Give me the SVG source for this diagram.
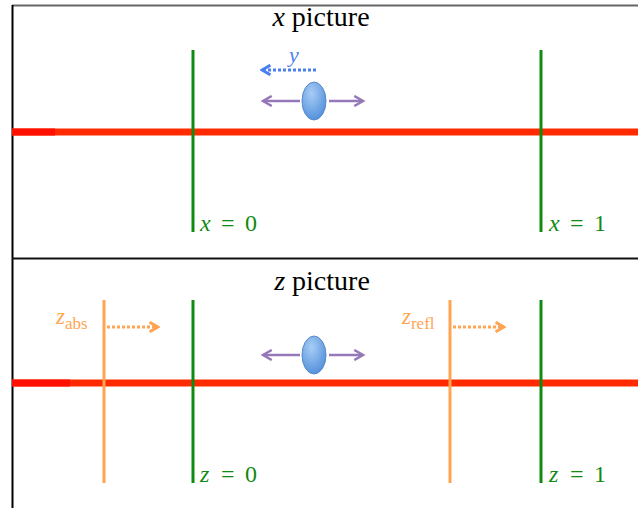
<svg xmlns="http://www.w3.org/2000/svg" width="638" height="508" viewBox="0 0 638 508">
<defs>
<style>
.rail{stroke:#ff2a00;stroke-width:7}
.rail0{stroke:#ff1000;stroke-width:7}
.green{stroke:#108a10;stroke-width:3}
.orange{stroke:#ffa552;stroke-width:3}
.purple{stroke:#9478b8;stroke-width:2.5;fill:none}
.dotb{stroke:#4a7ff0;stroke-width:3;stroke-dasharray:3 2;fill:none}
.doto{stroke:#ffa552;stroke-width:3;stroke-dasharray:3 2;fill:none}
.it{font-style:italic}
</style>
<marker id="mp" viewBox="0 0 10 10" refX="8" refY="5" markerWidth="5" markerHeight="5" orient="auto" markerUnits="strokeWidth"><path d="M1,1 L8,5 L1,9" fill="none" stroke="#9478b8" stroke-width="2"/></marker>
<marker id="mb" viewBox="0 0 10 10" refX="8" refY="5" markerWidth="4" markerHeight="4" orient="auto" markerUnits="strokeWidth"><path d="M1,1 L8,5 L1,9" fill="none" stroke="#4a7ff0" stroke-width="2.5"/></marker>
<marker id="mo" viewBox="0 0 10 10" refX="8" refY="5" markerWidth="4" markerHeight="4" orient="auto" markerUnits="strokeWidth"><path d="M1,1 L8,5 L1,9" fill="none" stroke="#ffa552" stroke-width="2.5"/></marker>
<radialGradient id="gb" cx="0.4" cy="0.3" r="0.8"><stop offset="0" stop-color="#a8cdf5"/><stop offset="1" stop-color="#4a8ad8"/></radialGradient>
</defs>
<g id="frame">
<line x1="12" y1="5.5" x2="638" y2="5.5" stroke="#666" stroke-width="2"/>
<line x1="12.5" y1="5" x2="12.5" y2="508" stroke="#000" stroke-width="2"/>
<line x1="12" y1="258.5" x2="638" y2="258.5" stroke="#111" stroke-width="2"/>
</g>
<g font-family="Liberation Serif, DejaVu Serif, serif">
<g id="top-panel">
<text x="321" y="26" font-size="28" text-anchor="middle" fill="#000"><tspan class="it">x</tspan> picture</text>
<line class="rail" x1="12" y1="132" x2="638" y2="132"/>
<line class="rail0" x1="12" y1="132" x2="55" y2="132"/>
<line class="green" x1="193" y1="50" x2="193" y2="232"/>
<line class="green" x1="541" y1="50" x2="541" y2="232"/>
<text y="231" font-size="24" fill="#108a10"><tspan class="it" x="200">x</tspan><tspan x="221">=</tspan><tspan x="245">0</tspan></text>
<text y="231" font-size="24" fill="#108a10"><tspan class="it" x="549">x</tspan><tspan x="570">=</tspan><tspan x="594">1</tspan></text>
</g>
<g id="top-particle">
<ellipse cx="314" cy="101" rx="12" ry="19" fill="url(#gb)" stroke="#5a8ac8" stroke-width="1"/>
</g>
<g id="connectors-top">
<line class="purple" x1="300" y1="101" x2="263" y2="101" marker-end="url(#mp)"/>
<line class="purple" x1="329" y1="101" x2="363" y2="101" marker-end="url(#mp)"/>
<line class="dotb" x1="316" y1="70" x2="262" y2="70" marker-end="url(#mb)"/>
<text x="294" y="62" font-size="22" font-style="italic" fill="#4a7ff0" text-anchor="middle">y</text>
</g>
<g id="bottom-panel">
<text x="322" y="290" font-size="28" text-anchor="middle" fill="#000"><tspan class="it">z</tspan> picture</text>
<line class="rail" x1="12" y1="383" x2="638" y2="383"/>
<line class="rail0" x1="12" y1="383" x2="70" y2="383"/>
<line class="orange" x1="104" y1="300" x2="104" y2="483"/>
<line class="orange" x1="450" y1="300" x2="450" y2="483"/>
<line class="green" x1="193" y1="300" x2="193" y2="483"/>
<line class="green" x1="541" y1="300" x2="541" y2="483"/>
<text x="56" y="324" font-size="23" fill="#ffa552"><tspan class="it">z</tspan><tspan font-size="17" dy="5">abs</tspan></text>
<text x="402" y="324" font-size="23" fill="#ffa552"><tspan class="it">z</tspan><tspan font-size="17" dy="5">refl</tspan></text>
<text y="482" font-size="24" fill="#108a10"><tspan class="it" x="200">z</tspan><tspan x="221">=</tspan><tspan x="245">0</tspan></text>
<text y="482" font-size="24" fill="#108a10"><tspan class="it" x="549">z</tspan><tspan x="570">=</tspan><tspan x="594">1</tspan></text>
</g>
<g id="bottom-particle">
<ellipse cx="314" cy="355" rx="12" ry="19" fill="url(#gb)" stroke="#5a8ac8" stroke-width="1"/>
</g>
<g id="connectors-bottom">
<line class="purple" x1="300" y1="355" x2="263" y2="355" marker-end="url(#mp)"/>
<line class="purple" x1="329" y1="355" x2="363" y2="355" marker-end="url(#mp)"/>
<line class="doto" x1="107" y1="327" x2="158" y2="327" marker-end="url(#mo)"/>
<line class="doto" x1="453" y1="327" x2="504" y2="327" marker-end="url(#mo)"/>
</g>
</g>
</svg>
